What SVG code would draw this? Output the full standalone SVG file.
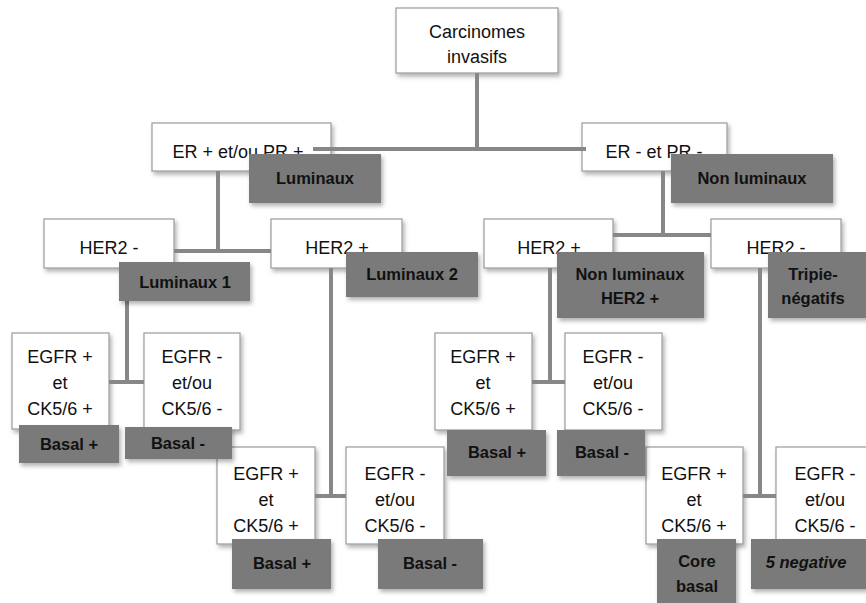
<svg xmlns="http://www.w3.org/2000/svg" width="866" height="603" viewBox="0 0 866 603">
<defs>
<filter id="sh" x="-20%" y="-20%" width="140%" height="150%">
<feDropShadow dx="2" dy="3" stdDeviation="2" flood-color="#000" flood-opacity="0.3"/>
</filter>
<style>
.w{fill:#fff;stroke:#9a9a9a;stroke-width:1.2;filter:url(#sh)}
.d{fill:#7a7a7a;stroke:none;filter:url(#sh)}
.t{font-family:"Liberation Sans",Arial,sans-serif;font-size:18px;fill:#111;text-anchor:middle}
.b{font-family:"Liberation Sans",Arial,sans-serif;font-size:16.5px;font-weight:bold;fill:#111;text-anchor:middle}
.c{stroke:#878787;stroke-width:4;fill:none}
</style>
</defs>
<rect width="866" height="603" fill="#fff"/>
<g id="white-nodes">
<g id="n0"><rect class="w" x="396" y="8" width="162" height="65"/><text class="t" x="477" y="38">Carcinomes</text><text class="t" x="477" y="63">invasifs</text></g>
<g id="n1"><rect class="w" x="152" y="123" width="179" height="48"/><text class="t" x="238" y="158">ER + et/ou PR +</text></g>
<g id="n2"><rect class="w" x="582" y="123" width="145" height="48"/><text class="t" x="654" y="158">ER - et PR -</text></g>
<g id="n3"><rect class="w" x="44" y="219" width="130" height="49"/><text class="t" x="109" y="254">HER2 -</text></g>
<g id="n4"><rect class="w" x="271" y="219" width="131" height="49"/><text class="t" x="337" y="254">HER2 +</text></g>
<g id="n5"><rect class="w" x="484" y="219" width="129" height="49"/><text class="t" x="549" y="254">HER2 +</text></g>
<g id="n6"><rect class="w" x="711" y="219" width="130" height="49"/><text class="t" x="776" y="254">HER2 -</text></g>
<g id="n7"><rect class="w" x="12" y="333" width="97" height="96"/><text class="t" x="60" y="363">EGFR +</text><text class="t" x="60" y="389">et</text><text class="t" x="60" y="415">CK5/6 +</text></g>
<g id="n8"><rect class="w" x="144" y="333" width="96" height="97"/><text class="t" x="192" y="363">EGFR -</text><text class="t" x="192" y="389">et/ou</text><text class="t" x="192" y="415">CK5/6 -</text></g>
<g id="n9"><rect class="w" x="435" y="333" width="97" height="97"/><text class="t" x="483" y="363">EGFR +</text><text class="t" x="483" y="389">et</text><text class="t" x="483" y="415">CK5/6 +</text></g>
<g id="n10"><rect class="w" x="565" y="333" width="97" height="97"/><text class="t" x="613" y="363">EGFR -</text><text class="t" x="613" y="389">et/ou</text><text class="t" x="613" y="415">CK5/6 -</text></g>
<g id="n11"><rect class="w" x="217" y="447" width="98" height="97"/><text class="t" x="266" y="480">EGFR +</text><text class="t" x="266" y="506">et</text><text class="t" x="266" y="532">CK5/6 +</text></g>
<g id="n12"><rect class="w" x="346" y="447" width="98" height="97"/><text class="t" x="395" y="480">EGFR -</text><text class="t" x="395" y="506">et/ou</text><text class="t" x="395" y="532">CK5/6 -</text></g>
<g id="n13"><rect class="w" x="646" y="447" width="97" height="97"/><text class="t" x="694" y="480">EGFR +</text><text class="t" x="694" y="506">et</text><text class="t" x="694" y="532">CK5/6 +</text></g>
<g id="n14"><rect class="w" x="776" y="447" width="98" height="97"/><text class="t" x="825" y="480">EGFR -</text><text class="t" x="825" y="506">et/ou</text><text class="t" x="825" y="532">CK5/6 -</text></g>
</g>
<g id="connectors">
<path class="c" d="M477 73V149M313 149H586M218 171V251M174 251H271M663 171V235M613 235H711M127 301V382M109 382H144M331 268V496M315 496H346M550 268V382M532 382H565M760 268V496M743 496H776"/>
</g>
<g id="label-nodes">
<g id="n1b"><rect class="d" x="249" y="154" width="132" height="49"/><text class="b" x="315" y="184">Luminaux</text></g>
<g id="n2b"><rect class="d" x="671" y="154" width="162" height="49"/><text class="b" x="752" y="184">Non luminaux</text></g>
<g id="n3b"><rect class="d" x="119" y="262" width="131" height="39"/><text class="b" x="185" y="288">Luminaux 1</text></g>
<g id="n4b"><rect class="d" x="346" y="252" width="132" height="45"/><text class="b" x="412" y="280">Luminaux 2</text></g>
<g id="n5b"><rect class="d" x="557" y="252" width="147" height="66"/><text class="b" x="630" y="280">Non luminaux</text><text class="b" x="630" y="304">HER2 +</text></g>
<g id="n6b"><rect class="d" x="768" y="252" width="102" height="66"/><text class="b" x="813" y="280">Tripie-</text><text class="b" x="813" y="304">négatifs</text></g>
<g id="n7b"><rect class="d" x="19" y="425" width="100" height="38"/><text class="b" x="69" y="450">Basal +</text></g>
<g id="n8b"><rect class="d" x="125" y="427" width="107" height="32"/><text class="b" x="178" y="449">Basal -</text></g>
<g id="n9b"><rect class="d" x="447" y="430" width="99" height="46"/><text class="b" x="497" y="458">Basal +</text></g>
<g id="n10b"><rect class="d" x="557" y="430" width="88" height="46"/><text class="b" x="602" y="458">Basal -</text></g>
<g id="n11b"><rect class="d" x="232" y="539" width="99" height="50"/><text class="b" x="282" y="569">Basal +</text></g>
<g id="n12b"><rect class="d" x="378" y="539" width="105" height="50"/><text class="b" x="430" y="569">Basal -</text></g>
<g id="n13b"><rect class="d" x="657" y="539" width="79" height="70"/><text class="b" x="697" y="567">Core</text><text class="b" x="697" y="592">basal</text></g>
<g id="n14b"><rect class="d" x="751" y="539" width="120" height="50"/><text class="b" x="806" y="568" font-style="italic">5 negative</text></g>
</g>
</svg>
